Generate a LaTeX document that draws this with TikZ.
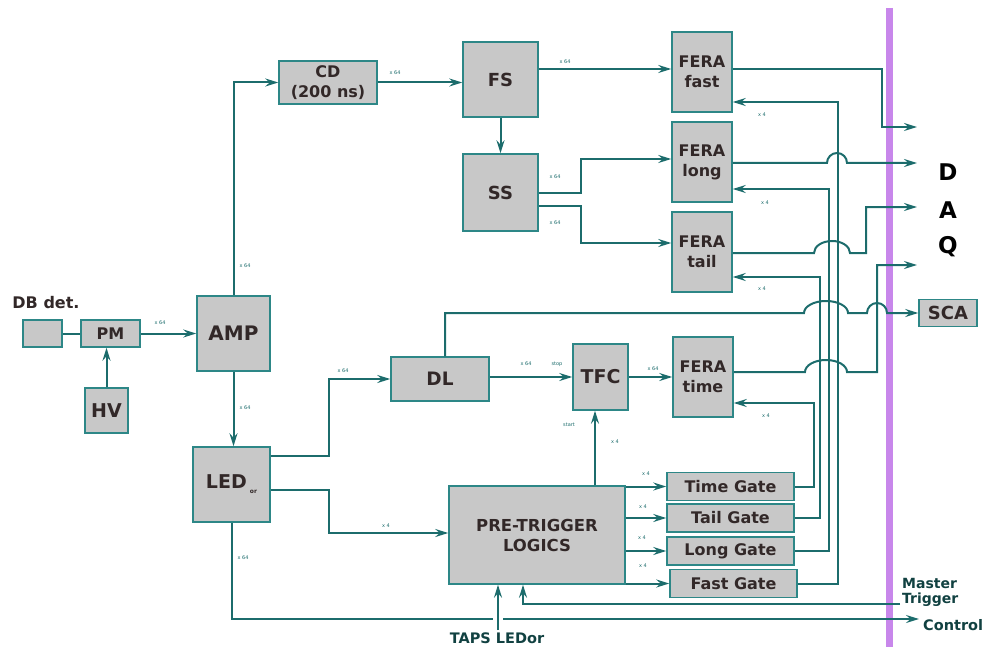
\documentclass[tikz,border=0pt]{standalone}
\usepackage{fontspec}
\setmainfont{DejaVu Sans}
\usetikzlibrary{arrows.meta}

\definecolor{wire}{RGB}{28,108,108}
\definecolor{boxline}{RGB}{45,135,135}
\definecolor{boxfill}{RGB}{200,200,200}
\definecolor{ink}{RGB}{50,40,40}
\definecolor{bus}{RGB}{200,135,235}

\tikzset{
    txt/.style={font=\bfseries\fontsize{#1}{20}\selectfont},
    blk/.style={draw=boxline, line width=1.5pt, fill=boxfill, text=ink, align=center, inner sep=0pt},
    wire/.style={draw=wire, line width=2pt},
    sig/.style={wire, -{Stealth[length=13pt,width=8pt,inset=4.5pt]}},
    tag/.style={text=wire, font=\fontsize{5}{6}\selectfont, inner sep=0pt}
}

\begin{document}
\begin{tikzpicture}[x=1pt, y=-1pt]
    \useasboundingbox (0,0) rectangle (987,647);

    % DAQ bus
    \draw[bus, line width=7pt] (889,8) -- (889,647);

    % Detector chain
    \node[txt=16, text=ink] (detlbl) at (46,303) {DB det.};
    \node[blk, minimum width=39, minimum height=27] (det) at (42.5,333.5) {};
    \node[blk, txt=16, minimum width=59, minimum height=27] (pm) at (110.5,333.5) {PM};
    \node[blk, txt=19, minimum width=43, minimum height=45] (hv) at (106.5,410.5) {HV};
    \node[blk, txt=20, minimum width=73, minimum height=75] (amp) at (233.5,333.5) {AMP};
    \node[blk, txt=19, minimum width=77, minimum height=75] (led) at (231.5,484.5)
        {LED\,\raisebox{-5pt}{\fontsize{6}{6}\selectfont or}};

    % Fast path
    \node[blk, txt=16, minimum width=98, minimum height=43] (cd) at (328,82.5) {CD\\(200 ns)};
    \node[blk, txt=18, minimum width=75, minimum height=75] (fs) at (500.5,79.5) {FS};
    \node[blk, txt=18, minimum width=75, minimum height=77] (ss) at (500.5,192.5) {SS};
    \foreach \n/\t/\y in {ffast/fast/72, flong/long/162, ftail/tail/252} {
        \node[blk, txt=16, minimum width=60, minimum height=80] (\n) at (702,\y) {FERA\\\t};
    }

    % Timing path
    \node[blk, txt=18.5, minimum width=98, minimum height=44] (dl) at (440,379) {DL};
    \node[blk, txt=19, minimum width=55, minimum height=66] (tfc) at (600.5,377) {TFC};
    \node[blk, txt=16, minimum width=60, minimum height=80] (ftime) at (703,377) {FERA\\time};
    \node[blk, txt=16.5, minimum width=176, minimum height=98] (ptl) at (537,535) {PRE-TRIGGER\\LOGICS};
    \foreach \n/\t/\x/\y in {tg/Time/730.5/486.5, tlg/Tail/730.5/518, lg/Long/730.5/551, fg/Fast/733.5/583.5} {
        \node[blk, txt=16, minimum width=127, minimum height=28] (\n) at (\x,\y) {\t{} Gate};
    }
    \node[blk, txt=18, minimum width=58, minimum height=27] (sca) at (948,313) {SCA};

    % Outside labels
    \node[txt=23, text=black] (dq) at (948,172) {D};
    \node[txt=23, text=black] (aq) at (948,210) {A};
    \node[txt=23, text=black] (qq) at (948,247) {Q};
    \node[font=\bfseries\fontsize{14}{15}\selectfont, text=wire!60!black, align=left, anchor=west, inner sep=0pt]
        (mtlbl) at (902,592.5) {Master\\Trigger};
    \node[txt=14.5, text=wire!60!black, anchor=west, inner sep=0pt] (ctlbl) at (923,625) {Control};
    \node[txt=14.5, text=wire!60!black] (tapslbl) at (497,638) {TAPS LEDor};

    % Free ends
    \coordinate (daq1) at (917,127);
    \coordinate (daq2) at (917,163);
    \coordinate (daq3) at (917,207);
    \coordinate (daq4) at (917,265);
    \coordinate (mtrig) at (900,604);
    \coordinate (ctrl) at (919,619);
    \coordinate (taps) at (498,630);

    % Detector to AMP
    \draw[wire] (det) -- (pm);
    \draw[sig] (pm) -- (amp);
    \draw[sig] (hv.north) -- (hv.north |- pm.south);
    \draw[sig] (amp.north) |- (cd.west);
    \draw[sig] (amp.south) -- (amp.south |- led.north);

    % Charge branch
    \draw[sig] (cd.east) -- (cd.east -| fs.west);
    \draw[sig] ([yshift=10.5pt]fs.east) -- ([yshift=10.5pt]fs.east -| ffast.west);
    \draw[sig] (fs) -- (ss);
    \draw[sig] ([yshift=-0.5pt]ss.east) -- ++(42,0) |- ([yshift=3pt]flong.west);
    \draw[sig] ([yshift=-13.5pt]ss.east) -- ++(42,0) |- ([yshift=9pt]ftail.west);

    % Timing branch
    \draw[sig] ([yshift=28.5pt]led.east) -- ++(58,0) |- (dl.west);
    \draw[sig] ([yshift=-5.5pt]led.east) -- ++(58,0) |- ([yshift=2pt]ptl.west);
    \draw[sig] (tfc.west -| dl.east) -- (tfc.west);
    \draw[sig] (tfc) -- (ftime);
    \draw[sig] ([xshift=58pt]ptl.north) -- ([xshift=58pt]ptl.north |- tfc.south);
    \foreach \g in {tg,tlg,lg,fg} {
        \draw[sig] (ptl.east |- \g.west) -- (\g.west);
    }

    % Gates back to the FERAs
    \draw[sig] (tg.east) -- ++(19,0) |- ([yshift=-26pt]ftime.east);
    \draw[sig] (tlg.east) -- ++(25,0) |- ([yshift=-25pt]ftail.east);
    \draw[sig] (lg.east) -- ++(34,0) |- ([yshift=-27pt]flong.east);
    \draw[sig] (fg.east) -- ++(40,0) |- ([yshift=-30pt]ffast.east);

    % Readout to DAQ and SCA
    \draw[sig] ([yshift=3pt]ffast.east) -| ([xshift=-35pt]daq1) -- (daq1);
    \draw[sig] ([yshift=-1pt]flong.east) -- (827,163)
        arc[start angle=180, end angle=0, x radius=10pt, y radius=10pt] -- (daq2);
    \draw[sig] ([yshift=-1pt]ftail.east) -- (814,253)
        arc[start angle=180, end angle=0, x radius=18pt, y radius=12pt] -- (866,253) |- (daq3);
    \draw[sig] ([yshift=5pt]ftime.east) -- (805,372)
        arc[start angle=180, end angle=0, x radius=21pt, y radius=12pt] -- (877,372) |- (daq4);
    \draw[sig] ([xshift=5pt]dl.north) |- (804,313)
        arc[start angle=180, end angle=0, x radius=22pt, y radius=12pt] -- (867,313)
        arc[start angle=180, end angle=0, x radius=10pt, y radius=10pt] -- (sca.west);

    % Trigger and control
    \draw[sig] (mtrig) -| ([xshift=-14pt]ptl.south);
    \draw[sig] (taps) -- (taps |- ptl.south);
    \draw[wire] (led.south) |- ([xshift=-5pt]taps |- ctrl);
    \draw[sig] ([xshift=5pt]taps |- ctrl) -- (ctrl);

    % Multiplicities
    \foreach \x/\y/\t [count=\i] in {160/323/x 64, 245/266/x 64, 245/408/x 64, 395/73/x 64,
        565/62/x 64, 555/177/x 64, 555/223/x 64, 762/115/x 4, 765/203/x 4, 762/289/x 4,
        766/416/x 4, 343/371/x 64, 526/364/x 64, 557/364/stop, 653/369/x 64, 569/425/start,
        615/442/x 4, 386/526/x 4, 243/558/x 64, 646/474/x 4, 643/507/x 4, 642/538/x 4, 643/566/x 4} {
        \node[tag] (tag\i) at (\x,\y) {\t};
    }
\end{tikzpicture}
\end{document}
